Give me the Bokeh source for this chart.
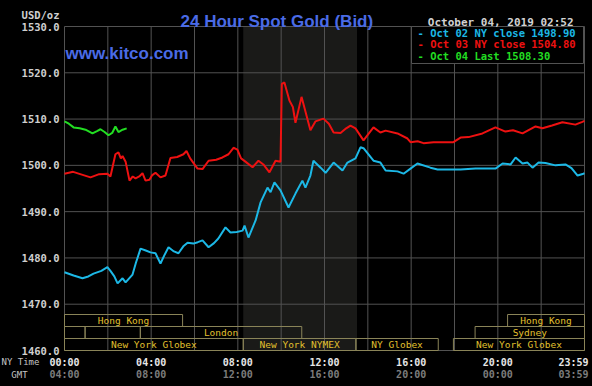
from bokeh.plotting import figure
from bokeh.models import Label, ColumnDataSource
from bokeh.core.properties import value
from bokeh.embed import file_html
from bokeh.resources import INLINE

# ---------------- data ----------------
oct02_hours = [0.00, 0.42, 0.83, 1.10, 1.34, 1.70, 1.98, 2.12, 2.30, 2.45, 2.68, 2.82, 3.14, 3.30, 3.51,
               3.75, 3.97, 4.20, 4.43, 4.60, 4.80, 5.05, 5.26, 5.50, 5.68, 5.95, 6.15, 6.37, 6.65, 6.90,
               7.10, 7.43, 7.66, 7.95, 8.22, 8.31, 8.49, 8.82, 9.05, 9.37, 9.51, 9.69, 9.97, 10.34, 10.66,
               10.98, 11.12, 11.35, 11.49, 11.82, 12.05, 12.42, 12.83, 13.06, 13.43, 13.66, 13.80, 14.26,
               14.58, 14.82, 15.37, 15.65, 15.97, 16.29, 16.89, 17.22, 18.28, 18.97, 19.89, 20.22, 20.59,
               20.82, 21.14, 21.37, 21.60, 21.88, 22.20, 22.66, 23.12, 23.40, 23.68, 23.95, 24.00]
oct02_price = [1476.9, 1476.2, 1475.6, 1476.0, 1476.6, 1477.2, 1478.0, 1477.2, 1476.0, 1474.5, 1475.6,
               1474.7, 1476.4, 1479.0, 1482.0, 1481.6, 1481.2, 1481.0, 1478.8, 1480.5, 1482.3, 1481.4,
               1481.0, 1482.6, 1483.3, 1483.1, 1483.4, 1483.8, 1482.3, 1483.2, 1484.2, 1486.6, 1485.5,
               1485.6, 1485.9, 1487.0, 1484.4, 1488.1, 1492.0, 1495.2, 1494.2, 1496.3, 1494.6, 1490.9,
               1493.9, 1496.7, 1495.2, 1497.8, 1501.0, 1499.5, 1498.4, 1500.6, 1498.9, 1500.6, 1501.5,
               1503.9, 1503.7, 1501.0, 1500.6, 1498.9, 1498.7, 1498.2, 1499.3, 1500.4, 1499.5, 1499.1,
               1499.1, 1499.3, 1499.3, 1500.4, 1500.2, 1501.7, 1500.4, 1500.6, 1499.5, 1500.6, 1500.5,
               1500.0, 1500.2, 1499.4, 1497.8, 1498.2, 1498.3]

oct03_hours = [0.00, 0.40, 0.80, 1.20, 1.60, 1.98, 2.12, 2.35, 2.49, 2.60, 2.68, 2.82, 3.00, 3.15, 3.28,
               3.45, 3.60, 3.74, 3.92, 4.05, 4.20, 4.43, 4.66, 4.89, 5.20, 5.49, 5.63, 5.80, 6.14, 6.37,
               6.65, 7.00, 7.29, 7.57, 7.80, 7.98, 8.15, 8.35, 8.68, 8.95, 9.18, 9.46, 9.74, 9.97, 10.03,
               10.15, 10.38, 10.54, 10.66, 10.94, 11.35, 11.58, 11.95, 12.20, 12.42, 12.74, 13.00, 13.20,
               13.43, 13.80, 14.26, 14.58, 14.82, 15.37, 15.83, 15.97, 16.30, 16.57, 17.03, 17.95, 18.28,
               18.65, 19.29, 19.89, 20.35, 20.70, 21.14, 21.74, 22.06, 22.50, 22.98, 23.58, 23.90, 24.00]
oct03_price = [1498.2, 1498.6, 1498.0, 1497.4, 1498.1, 1498.2, 1497.6, 1502.4, 1502.8, 1501.5, 1502.0,
               1500.8, 1496.7, 1497.6, 1497.2, 1497.6, 1498.3, 1496.7, 1496.9, 1497.9, 1498.4, 1497.4,
               1497.8, 1501.6, 1501.8, 1502.4, 1503.1, 1501.5, 1499.3, 1499.2, 1501.0, 1501.2, 1501.7,
               1502.4, 1503.8, 1503.4, 1501.5, 1500.8, 1499.6, 1501.0, 1500.2, 1498.5, 1501.0, 1500.8,
               1517.6, 1517.9, 1514.0, 1512.6, 1509.2, 1514.8, 1507.6, 1509.5, 1510.1, 1509.0, 1507.1,
               1507.0, 1508.0, 1508.6, 1508.0, 1505.4, 1508.2, 1507.1, 1507.5, 1506.9, 1505.8, 1505.0,
               1505.2, 1504.8, 1505.0, 1505.0, 1506.0, 1506.1, 1506.9, 1508.2, 1507.3, 1507.6, 1506.9,
               1508.4, 1508.0, 1508.6, 1509.3, 1508.8, 1509.4, 1509.6]

oct04_hours = [0.00, 0.20, 0.42, 0.70, 0.97, 1.29, 1.50, 1.66, 1.85, 2.03, 2.20, 2.35, 2.49, 2.68, 2.87]
oct04_price = [1509.5, 1509.0, 1508.2, 1508.0, 1507.7, 1506.9, 1507.4, 1507.8, 1507.2, 1506.5, 1507.0,
               1508.4, 1507.2, 1507.7, 1508.0]

legend_labels = ["- Oct 02 NY close 1498.90", "- Oct 03 NY close 1504.80", "- Oct 04 Last 1508.30"]
price_ticks = [1460, 1470, 1480, 1490, 1500, 1510, 1520, 1530]
grid_hours = [0, 2, 4, 6, 8, 10, 12, 14, 16, 18, 20, 22, 24]
time_ticks = [0, 4, 8, 12, 16, 20, 24]
ny_time_labels = ["00:00", "04:00", "08:00", "12:00", "16:00", "20:00", "23:59"]
gmt_time_labels = ["04:00", "08:00", "12:00", "16:00", "20:00", "00:00", "03:59"]
nymex_open, nymex_close = 8.25, 13.5

session_names = ["Hong Kong", "Hong Kong", "", "", "London", "Sydney",
                 "New York Globex", "New York NYMEX", "NY Globex", "New York Globex"]
session_start = [0.0, 20.45, 0.0, 0.95, 3.5, 18.95, 0.0, 8.25, 13.45, 17.95]
session_end = [5.45, 24.0, 0.95, 3.5, 10.95, 24.0, 8.25, 13.45, 17.25, 24.0]
session_row = [2, 2, 1, 1, 1, 1, 0, 0, 0, 0]

title_text = "24 Hour Spot Gold (Bid)"
site_text = "www.kitco.com"
date_text = "October 04, 2019 02:52"
unit_text = "USD/oz"

# ---------------- layout ----------------
W, H = 592, 386
LEFT, TOP, PW, PH = 64, 26, 520, 324      # chart area inside the canvas (pixels)
X0, X1 = 0, 24
Y0, Y1 = 1460, 1530


def dx(px):
    return X0 + (px - LEFT) / PW * (X1 - X0)


def dy(py):
    return Y1 - (py - TOP) / PH * (Y1 - Y0)


ROW_H = 12 / PH * (Y1 - Y0)
GRID_C = "#525252"
MONO = "DejaVu Sans Mono"
SANS = "Liberation Sans"
BLUE = "#4a6be6"
CYAN, RED, GREEN = "#1cb8e6", "#ee1111", "#22dd22"

p = figure(width=W, height=H, x_range=(dx(0), dx(W)), y_range=(dy(H), dy(0)),
           x_axis_location=None, y_axis_location=None,
           min_border_left=0, min_border_right=0, min_border_top=0, min_border_bottom=0,
           output_backend="svg", toolbar_location=None,
           background_fill_color="#000000", border_fill_color="#000000",
           outline_line_color=None)
p.grid.visible = False

# NYMEX shaded period
p.quad(left=[nymex_open], right=[nymex_close], bottom=[Y0], top=[Y1],
       fill_color="#1a1a18", line_color=None)

# grid lines
p.segment(x0=grid_hours, x1=grid_hours, y0=[Y0] * len(grid_hours), y1=[Y1] * len(grid_hours),
          line_color=GRID_C, line_width=1)
p.segment(x0=[X0] * len(price_ticks), x1=[X1] * len(price_ticks), y0=price_ticks, y1=price_ticks,
          line_color=GRID_C, line_width=1)

# price axis labels
p.text(x=[dx(59)] * len(price_ticks), y=price_ticks, text=[f"{t:.1f}" for t in price_ticks],
       text_align="right", text_baseline="middle", text_font=value(MONO),
       text_font_style="bold", text_font_size="10.5px", text_color="#cfcfcf")

# price lines
p.line(oct02_hours, oct02_price, line_color=CYAN, line_width=2)
p.line(oct03_hours, oct03_price, line_color=RED, line_width=2)
p.line(oct04_hours, oct04_price, line_color=GREEN, line_width=2)

# trading sessions
bottoms = [Y0 + r * ROW_H for r in session_row]
sess = ColumnDataSource(dict(
    left=session_start, right=session_end,
    bottom=bottoms, top=[b + ROW_H for b in bottoms],
    xc=[(a + b) / 2 for a, b in zip(session_start, session_end)],
    yc=[b + ROW_H / 2 for b in bottoms],
    name=session_names))
p.quad(left="left", right="right", bottom="bottom", top="top", source=sess,
       fill_alpha=0, line_color="#8a8458", line_width=1)
p.text(x="xc", y="yc", text="name", source=sess, text_font=value(MONO),
       text_font_size="9.5px", text_color="#e2c12e", text_align="center",
       text_baseline="middle")

# legend box
p.quad(left=[dx(411)], right=[dx(583)], bottom=[dy(63)], top=[dy(26)],
       fill_color="#000000", line_color=GRID_C, line_width=1)
legend_colors = [CYAN, RED, GREEN]
legend_rows = [32.7, 43.5, 55.0]
for txt, col, ry in zip(legend_labels, legend_colors, legend_rows):
    p.add_layout(Label(x=dx(417), y=dy(ry), text=txt, text_color=col, text_font=MONO,
                       text_font_style="bold", text_font_size="10.5px",
                       text_baseline="middle", text_align="left"))

# header texts
p.add_layout(Label(x=dx(59), y=dy(14), text=unit_text, text_align="right", text_baseline="middle",
                   text_font=MONO, text_font_style="bold", text_font_size="10.5px",
                   text_color="#cfcfcf"))
p.add_layout(Label(x=dx(180), y=dy(20.5), text=title_text, text_align="left",
                   text_baseline="alphabetic", text_font=SANS, text_font_style="bold",
                   text_font_size="17px", text_color=BLUE))
p.add_layout(Label(x=dx(65), y=dy(53), text=site_text, text_align="left",
                   text_baseline="alphabetic", text_font=SANS, text_font_style="bold",
                   text_font_size="17px", text_color=BLUE))
p.add_layout(Label(x=dx(573), y=dy(22), text=date_text, text_align="right",
                   text_baseline="alphabetic", text_font=MONO, text_font_style="bold",
                   text_font_size="11px", text_color="#d2d2d2"))

# bottom time axis texts
p.add_layout(Label(x=dx(1), y=dy(361.5), text="NY Time", text_align="left", text_baseline="middle",
                   text_font=MONO, text_font_size="9px", text_color="#c4c4c4"))
p.add_layout(Label(x=dx(19), y=dy(374), text="GMT", text_align="center", text_baseline="middle",
                   text_font=MONO, text_font_size="9px", text_color="#c4c4c4"))
for i, (h, ny, gmt) in enumerate(zip(time_ticks, ny_time_labels, gmt_time_labels)):
    last = i == len(time_ticks) - 1
    align = "right" if last else "center"
    off = 4 if last else 0
    p.add_layout(Label(x=h, y=dy(361.5), text=ny, text_align=align, text_baseline="middle",
                       x_offset=off, text_font=MONO, text_font_style="bold",
                       text_font_size="10px", text_color="#e6e6e6"))
    p.add_layout(Label(x=h, y=dy(374), text=gmt, text_align=align, text_baseline="middle",
                       x_offset=off, text_font=MONO, text_font_style="bold",
                       text_font_size="10px", text_color="#7c7c7c"))

html = file_html(p, INLINE)
html = html.replace("</head>", "<style>html,body{background-color:#000000;}</style></head>", 1)
open("out.html", "w").write(html)
